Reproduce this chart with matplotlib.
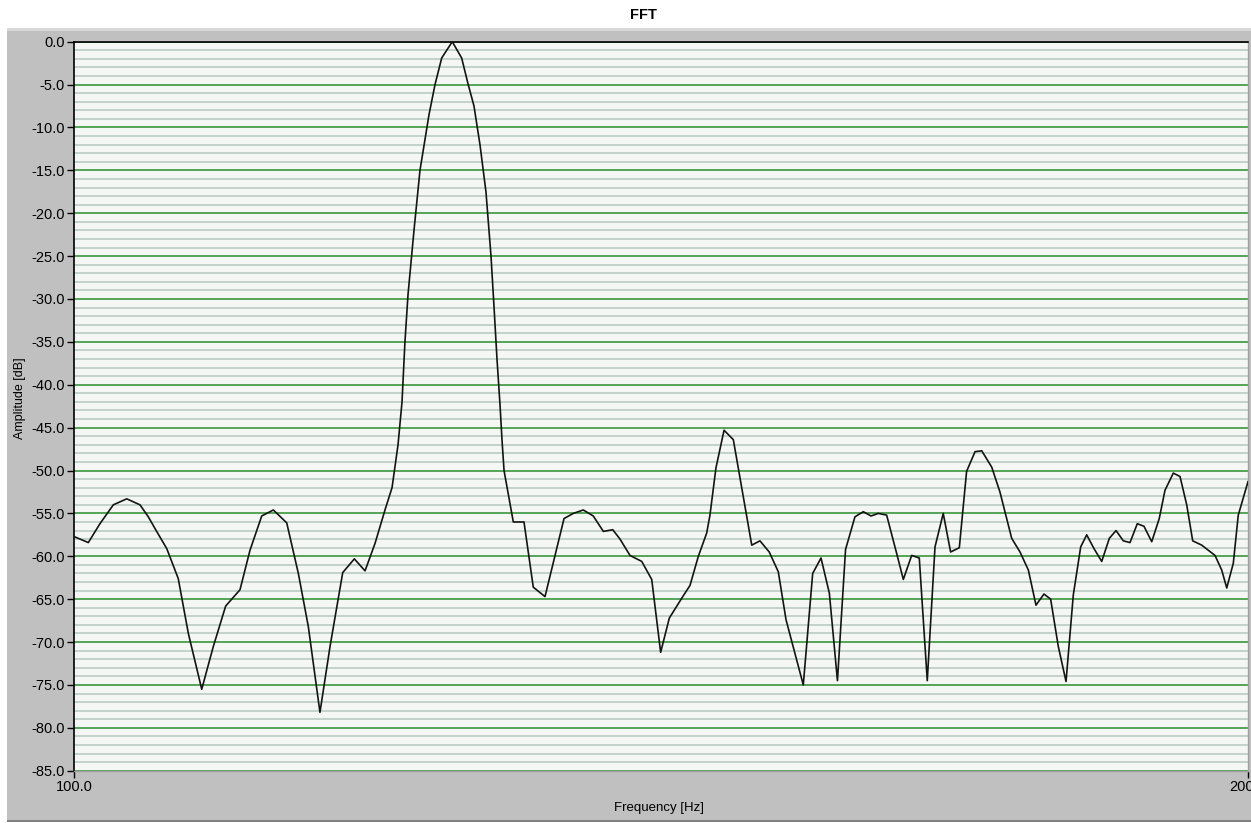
import matplotlib
matplotlib.use('Agg')
import matplotlib.pyplot as plt
from matplotlib.patches import Rectangle
from matplotlib.ticker import MultipleLocator

# spectrum around the 132 Hz tone
freq_hz = [
    100.00, 101.22, 102.21, 103.35, 104.49, 105.62, 106.33, 107.04, 107.90, 108.88,
    109.74, 110.88, 111.87, 112.92, 114.14, 114.99, 115.99, 116.98, 118.12, 119.11,
    119.96, 120.95, 121.81, 122.89, 123.88, 124.79, 125.64, 126.49, 127.09, 127.60,
    127.94, 128.19, 128.45, 128.96, 129.47, 130.24, 130.75, 131.32, 132.22, 133.02,
    133.56, 134.07, 134.58, 135.09, 135.52, 135.78, 136.03, 136.29, 136.46, 136.63,
    137.42, 138.33, 139.12, 140.12, 141.74, 142.53, 143.38, 144.23, 145.09, 145.89,
    146.51, 147.36, 148.36, 149.21, 149.97, 150.71, 151.90, 152.47, 153.18, 153.89,
    154.17, 154.68, 155.37, 156.16, 156.58, 157.73, 158.43, 159.22, 159.99, 160.65,
    162.12, 162.92, 163.63, 164.34, 165.03, 165.72, 166.52, 167.23, 167.89, 168.51,
    169.22, 170.08, 170.64, 171.35, 172.00, 172.68, 173.34, 174.04, 174.67, 175.41,
    176.03, 176.75, 177.32, 178.17, 178.87, 179.87, 180.58, 181.29, 181.94, 182.62,
    183.19, 183.84, 184.50, 185.12, 185.75, 186.26, 186.88, 187.54, 188.19, 188.76,
    189.38, 189.95, 190.57, 191.14, 191.80, 192.44, 192.93, 193.64, 194.21, 194.78,
    195.29, 196.06, 196.62, 197.19, 197.76, 198.19, 198.75, 199.17, 200.00,
]
amp_db = [
    -57.7, -58.4, -56.2, -54.0, -53.3, -54.0, -55.4, -57.1, -59.1, -62.6,
    -69.0, -75.5, -70.5, -65.8, -63.9, -59.3, -55.3, -54.6, -56.1, -62.0,
    -68.2, -78.2, -70.5, -61.9, -60.3, -61.7, -58.5, -54.6, -52.0, -47.0,
    -42.0, -35.0, -29.5, -22.0, -15.0, -8.5, -5.0, -1.9, 0.0, -1.9,
    -4.9, -7.5, -12.0, -17.5, -25.0, -31.0, -37.0, -42.4, -46.5, -50.0,
    -56.0, -56.0, -63.6, -64.7, -55.6, -55.0, -54.6, -55.3, -57.1, -56.9,
    -58.0, -59.9, -60.6, -62.7, -71.2, -67.2, -64.6, -63.4, -60.0, -57.3,
    -55.2, -49.7, -45.3, -46.4, -49.7, -58.7, -58.2, -59.5, -61.8, -67.4,
    -75.0, -62.0, -60.2, -64.3, -74.5, -59.2, -55.4, -54.8, -55.3, -55.0,
    -55.2, -59.7, -62.7, -59.9, -60.2, -74.5, -58.9, -55.0, -59.5, -59.0,
    -50.1, -47.8, -47.7, -49.6, -52.5, -57.9, -59.5, -61.6, -65.7, -64.4,
    -65.0, -70.5, -74.6, -64.5, -58.9, -57.5, -59.1, -60.6, -57.9, -57.0,
    -58.2, -58.4, -56.2, -56.5, -58.3, -55.6, -52.3, -50.3, -50.7, -54.0,
    -58.2, -58.7, -59.3, -59.9, -61.6, -63.7, -60.8, -55.2, -51.3,
]

x_ticks = [100.0, 200.0]
y_ticks = [0, -5, -10, -15, -20, -25, -30, -35, -40, -45, -50, -55, -60, -65, -70, -75, -80, -85]

plt.rcParams['font.family'] = ['Liberation Sans', 'DejaVu Sans']

W, H = 1251, 823
fig = plt.figure(figsize=(W / 100, H / 100), dpi=100)
fig.patch.set_facecolor('white')

# grey panel behind the graph
fig.add_artist(Rectangle((7 / W, 3 / H), 1 - 7 / W, (795 - 3) / H, transform=fig.transFigure,
                         facecolor='#c0c0c0', edgecolor='none', zorder=-2))
fig.add_artist(Rectangle((7 / W, 1 / H), 1 - 7 / W, 2.5 / H, transform=fig.transFigure,
                         facecolor='#808080', edgecolor='none', zorder=-1))
fig.add_artist(Rectangle((7 / W, 792 / H), 1 - 7 / W, 3 / H, transform=fig.transFigure,
                         facecolor='#d8d8d8', edgecolor='none', zorder=-1))

left, right, top, bottom = 74, 1248, 41.7, 770.7
ax = fig.add_axes([left / W, (H - bottom) / H, (right - left) / W, (bottom - top) / H])
ax.set_facecolor('#f5f7f5')
ax.set_axisbelow(True)

ax.plot(freq_hz, amp_db, color='#141414', lw=1.2, zorder=3)

ax.set_xlim(100, 200)
ax.set_ylim(-85, 0)

ax.set_yticks(y_ticks)
ax.set_yticklabels([f'{v:.1f}' for v in y_ticks])
ax.set_xticks(x_ticks)
ax.set_xticklabels([f'{v:.1f}' for v in x_ticks])
ax.yaxis.set_minor_locator(MultipleLocator(1))

ax.grid(which='minor', axis='y', color='#b4c9c0', lw=1.1)
ax.grid(which='major', axis='y', color='#2a8c2a', lw=1.1)

ax.tick_params(which='major', direction='out', length=5, width=1, color='black',
               labelsize=10.5, pad=1.5)
ax.tick_params(which='minor', length=0)

for side in ('left', 'top'):
    ax.spines[side].set_color('black')
    ax.spines[side].set_linewidth(1.2)
for side in ('right', 'bottom'):
    ax.spines[side].set_color('#a0a0a0')
    ax.spines[side].set_linewidth(1.0)

fig.text(643 / W, 1 - 15 / H, 'FFT', ha='center', va='center', fontsize=10.5, fontweight='bold')
fig.text(659 / W, 1 - 808 / H, 'Frequency [Hz]', ha='center', va='center', fontsize=9.5)
fig.text(20 / W, 1 - 398 / H, 'Amplitude [dB]', ha='center', va='center', fontsize=9, rotation=90)

fig.savefig('out.png', dpi=100)
